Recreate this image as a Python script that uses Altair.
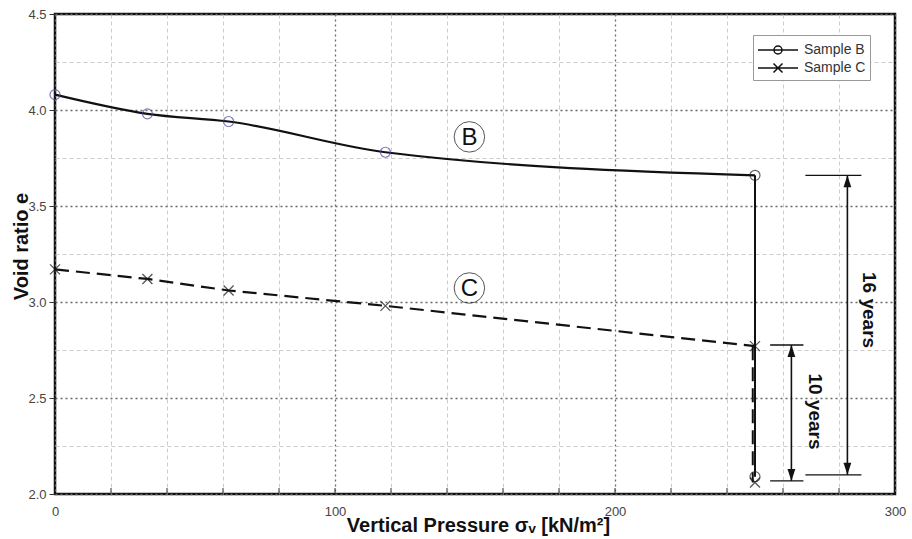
import altair as alt
import pandas as pd

# ---------------- data ----------------
SERIES = ["Sample B", "Sample C"]

B_X = [0, 33, 62, 118, 250]
B_E = [4.08, 3.98, 3.94, 3.78, 3.66]
B_DROP_X = [250, 250]
B_DROP_E = [3.66, 2.09]

C_X = [0, 33, 62, 118, 250]
C_E = [3.17, 3.12, 3.06, 2.98, 2.77]
C_DROP_X = [249.2, 249.2]
C_DROP_E = [2.77, 2.06]
C_END_X = [250]
C_END_E = [2.06]

CURVE_LABELS = ["B", "C"]
CURVE_LABEL_X = [148, 148]
CURVE_LABEL_E = [3.86, 3.073]

DIM_TEXT = ["16 years", "10 years"]
DIM_X = [283, 263]
DIM_TOP = [3.66, 2.776]
DIM_BOT = [2.10, 2.068]
DIM_TICK_X0 = [268, 255.4]
DIM_TICK_X1 = [288, 267.3]
DIM_TEXT_X = [290.7, 271.4]
DIM_TEXT_E = [2.958, 2.43]

X_GRID = list(range(0, 301, 20))
Y_GRID = [2.0 + 0.25 * i for i in range(11)]
X_MINOR_TICKS = list(range(20, 300, 20))

# ---------------- tables ----------------
b_df = pd.DataFrame({"x": B_X, "e": B_E})
b_drop = pd.DataFrame({"x": B_DROP_X, "e": B_DROP_E})
c_df = pd.DataFrame({"x": C_X, "e": C_E})
c_drop = pd.DataFrame({"x": C_DROP_X, "e": C_DROP_E})
c_end = pd.DataFrame({"x": C_END_X, "e": C_END_E})
lab_df = pd.DataFrame({"t": CURVE_LABELS, "x": CURVE_LABEL_X, "e": CURVE_LABEL_E})
dim_df = pd.DataFrame({
    "t": DIM_TEXT, "x": DIM_X, "top": DIM_TOP, "bot": DIM_BOT,
    "tx0": DIM_TICK_X0, "tx1": DIM_TICK_X1, "lx": DIM_TEXT_X, "le": DIM_TEXT_E,
})
tick_top = pd.DataFrame({"x": DIM_TICK_X0, "x1": DIM_TICK_X1, "e": DIM_TOP})
tick_bot = pd.DataFrame({"x": DIM_TICK_X0, "x1": DIM_TICK_X1, "e": DIM_BOT})
grid_df = pd.DataFrame({"x": X_MINOR_TICKS})
leg_df = pd.DataFrame({"series": SERIES, "x": [B_X[0], C_X[0]], "e": [B_E[0], C_E[0]]})

FONT = "Liberation Sans"
xs = alt.Scale(domain=[0, 300], nice=False, zero=False)
ys = alt.Scale(domain=[2.0, 4.5], nice=False, zero=False)
MX = "datum.value % 100 == 0"
MY = "datum.value % 0.5 == 0"

x_axis = alt.Axis(
    values=X_GRID, labelExpr=f"{MX} ? datum.label : ''", labelOverlap=False, labelFlush=False,
    grid=True,
    gridColor={"condition": {"test": MX, "value": "#6a6a6a"}, "value": "#c6c6c6"},
    gridDash={"condition": {"test": MX, "value": [2, 3]}, "value": [4, 3]},
    gridWidth={"condition": {"test": MX, "value": 1.3}, "value": 0.9},
    ticks=False, domain=False,
    labelFont=FONT, labelFontSize=13, labelColor="#444", labelPadding=11,
    title="Vertical Pressure σᵥ [kN/m²]", titleFont=FONT, titleFontSize=20,
    titleFontWeight="bold", titleColor="#111",
    titleX=423, titleY=31, titleBaseline="middle", titleAlign="center",
)
y_axis = alt.Axis(
    values=Y_GRID, format=".1f", labelExpr=f"{MY} ? datum.label : ''", labelOverlap=False,
    labelFlush=False,
    grid=True,
    gridColor={"condition": {"test": MY, "value": "#6a6a6a"}, "value": "#c6c6c6"},
    gridDash={"condition": {"test": MY, "value": [2, 3]}, "value": [4, 3]},
    gridWidth={"condition": {"test": MY, "value": 1.3}, "value": 0.9},
    ticks=True, tickSize=6, tickColor="#333",
    tickOpacity={"condition": {"test": MY, "value": 1}, "value": 0},
    domain=False,
    labelFont=FONT, labelFontSize=13, labelColor="#444", labelPadding=3,
    title="Void ratio e", titleFont=FONT, titleFontSize=20, titleFontWeight="bold",
    titleColor="#111", titleX=-34, titleY=232, titleAngle=-90,
    titleBaseline="middle", titleAlign="center",
)


def X(f="x"):
    return alt.X(f"{f}:Q", scale=xs, axis=x_axis)


def Y(f="e"):
    return alt.Y(f"{f}:Q", scale=ys, axis=y_axis)


# small inner ticks at the bottom
axes = alt.Chart(grid_df).mark_rule(color="#333", strokeWidth=1).encode(
    x=X(), y=alt.value(480), y2=alt.value(474),
)

b_line = alt.Chart(b_df).mark_line(color="#111", strokeWidth=2.2, interpolate="monotone").encode(x=X(), y=Y())
b_vert = alt.Chart(b_drop).mark_line(color="#111", strokeWidth=2).encode(x=X(), y=Y())
c_line = alt.Chart(c_df).mark_line(color="#111", strokeWidth=2.2, strokeDash=[14, 7]).encode(x=X(), y=Y())
c_vert = alt.Chart(c_drop).mark_line(color="#111", strokeWidth=2, strokeDash=[14, 7]).encode(x=X(), y=Y())

XPATH = "M-1,-1L1,1M-1,1L1,-1"
b_pts = alt.Chart(b_df.iloc[:-1]).mark_point(shape="circle", size=100, color="#45459a", strokeWidth=1.2, filled=False).encode(x=X(), y=Y())
b_end_pts = alt.Chart(b_drop).mark_point(shape="circle", size=100, color="#222", strokeWidth=1.2, filled=False).encode(x=X(), y=Y())
c_pts = alt.Chart(c_df).mark_point(shape=XPATH, size=100, color="#111", strokeWidth=1.3, filled=False).encode(x=X(), y=Y())
c_end_pts = alt.Chart(c_end).mark_point(shape=XPATH, size=100, color="#111", strokeWidth=1.3, filled=False).encode(x=X(), y=Y())

lab_circ = alt.Chart(lab_df).mark_point(shape="circle", size=930, color="#111", strokeWidth=1, filled=False).encode(x=X(), y=Y())
lab_txt = alt.Chart(lab_df).mark_text(font=FONT, fontSize=24, color="#111", baseline="middle", align="center", dy=1).encode(x=X(), y=Y(), text="t:N")

# dimension arrows
dim_line = alt.Chart(dim_df).mark_rule(color="#111", strokeWidth=1.6).encode(x=X(), y=Y("top"), y2="bot:Q")
UP = "M0,0L-0.65,2L0.65,2Z"
DOWN = "M0,0L-0.65,-2L0.65,-2Z"
dim_up = alt.Chart(dim_df).mark_point(shape=UP, size=144, filled=True, color="#111", opacity=1).encode(x=X(), y=Y("top"))
dim_dn = alt.Chart(dim_df).mark_point(shape=DOWN, size=144, filled=True, color="#111", opacity=1).encode(x=X(), y=Y("bot"))
t_top = alt.Chart(tick_top).mark_rule(color="#111", strokeWidth=1.3).encode(x=X(), x2="x1:Q", y=Y())
t_bot = alt.Chart(tick_bot).mark_rule(color="#111", strokeWidth=1.3).encode(x=X(), x2="x1:Q", y=Y())
dim_txt = alt.Chart(dim_df).mark_text(font=FONT, fontSize=19, fontWeight="bold", color="#111", angle=90,
                                      baseline="middle", align="center").encode(x=X("lx"), y=Y("le"), text="t:N")

# legend (dummy invisible points); symbol drawn as line + marker
LEG_B = "M-1,0L3,0M1.4,0A0.4,0.4,0,1,1,0.6,0A0.4,0.4,0,1,1,1.4,0"
LEG_C = "M-1,0L3,0M0.55,-0.45L1.45,0.45M0.55,0.45L1.45,-0.45"
legend_layer = alt.Chart(leg_df).mark_point(opacity=0, filled=False).encode(
    x=X(), y=Y(),
    shape=alt.Shape("series:N", scale=alt.Scale(domain=SERIES, range=[LEG_B, LEG_C]),
                    legend=alt.Legend(title=None, orient="none", legendX=698, legendY=21,
                                      fillColor="white", strokeColor="#999", padding=4,
                                      symbolSize=400, symbolStrokeWidth=1.5, symbolOpacity=1,
                                      symbolStrokeColor="#111", symbolFillColor="transparent",
                                      labelFont=FONT, labelFontSize=14, labelColor="#333",
                                      labelOffset=25, rowPadding=0)),
)

chart = alt.layer(
    axes, b_line, b_vert, c_line, c_vert,
    b_pts, b_end_pts, c_pts, c_end_pts,
    lab_circ, lab_txt, dim_line, dim_up, dim_dn, t_top, t_bot, dim_txt, legend_layer,
).properties(
    width=840, height=480,
    autosize=alt.AutoSizeParams(type="none"),
    padding={"left": 55, "top": 14, "right": 17, "bottom": 45},
    background="white",
).configure_view(stroke="#111", strokeWidth=2.5)

chart.save("out.html", embed_options={"renderer": "svg", "actions": False})
